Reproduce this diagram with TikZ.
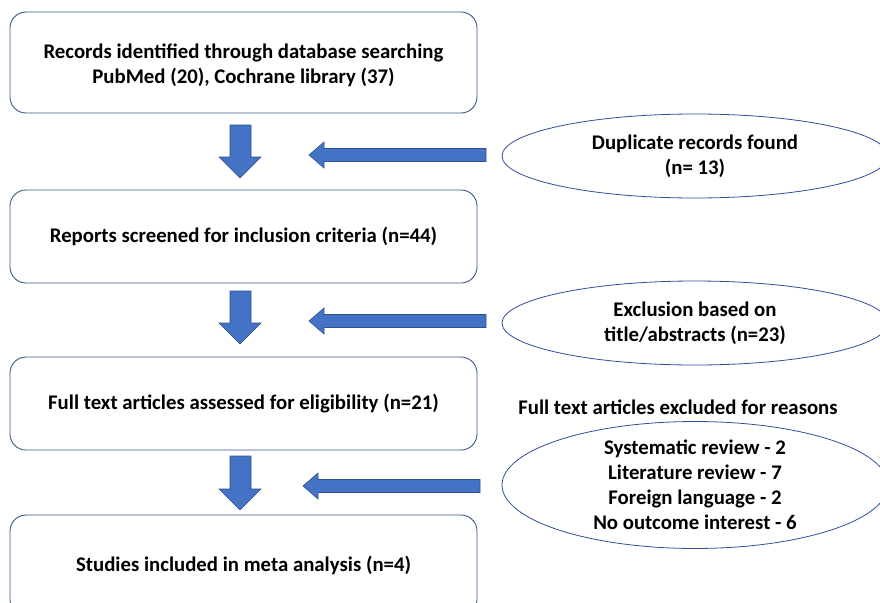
\documentclass[tikz,border=0pt]{standalone}
\usepackage{fontspec}
\setmainfont{Carlito}
\usetikzlibrary{shapes.geometric}
\definecolor{boxline}{HTML}{3B5A8F}
\definecolor{ellline}{HTML}{2F4F99}
\definecolor{arrfill}{HTML}{4472C4}
\definecolor{arrline}{HTML}{2F528F}
\begin{document}
\begin{tikzpicture}[x=1pt,y=-1pt,
  txt/.style={font=\bfseries\fontsize{20.8}{25}\selectfont, align=center, text=black},
  flowbox/.style={txt, draw=boxline, line width=0.9pt, rounded corners=16pt, minimum width=467pt, inner sep=0pt},
  oval/.style={txt, ellipse, draw=ellline, line width=0.8pt, minimum width=386pt, minimum height=84pt, inner sep=0pt},
  blockarrow/.style={fill=arrfill, draw=arrline, line width=0.6pt, line join=miter}
]
\useasboundingbox (0,0) rectangle (880,602);
\clip (0,0) rectangle (880,602);
\fill[white] (0,0) rectangle (880,602);

\node[flowbox, minimum height=101pt] (b1) at (243.5,62.5) {};
\node[txt] (b1t) at (243.5,65) {Records identified through database searching\\PubMed (20), Cochrane library (37)};
\node[flowbox, minimum height=93pt] (b2) at (243.5,236.5) {Reports screened for inclusion criteria (n=44)};
\node[flowbox, minimum height=93pt] (b3) at (243.5,403.5) {Full text articles assessed for eligibility (n=21)};
\node[flowbox, minimum height=100pt] (b4) at (243.5,565) {Studies included in meta analysis (n=4)};

\node[oval] (e1) at (695,156) {Duplicate records found\\(n= 13)};
\node[oval] (e2) at (695,323) {Exclusion based on\\title/abstracts (n=23)};
\node[oval, minimum height=124pt] (e3) at (695,485) {Systematic review - 2\\Literature review - 7\\Foreign language - 2\\No outcome interest - 6};
\node[txt] (lbl) at (678,407) {Full text articles excluded for reasons};

% down arrows
\draw[blockarrow] (230,125) -- (251,125) -- (251,157) -- (261,157) -- (240,178) -- (219,157) -- (230,157) -- cycle;
\draw[blockarrow] (230,291) -- (251,291) -- (251,323) -- (261,323) -- (240,344) -- (219,323) -- (230,323) -- cycle;
\draw[blockarrow] (230,456) -- (251,456) -- (251,489) -- (261,489) -- (240,510) -- (219,489) -- (230,489) -- cycle;

% left arrows
\draw[blockarrow] (486,148.5) -- (324,148.5) -- (324,142) -- (309,155) -- (324,168) -- (324,161.5) -- (486,161.5) -- cycle;
\draw[blockarrow] (486,314.5) -- (324,314.5) -- (324,308) -- (309,321) -- (324,334) -- (324,327.5) -- (486,327.5) -- cycle;
\draw[blockarrow] (480,479.5) -- (318,479.5) -- (318,473) -- (303,486) -- (318,499) -- (318,492.5) -- (480,492.5) -- cycle;
\end{tikzpicture}
\end{document}
